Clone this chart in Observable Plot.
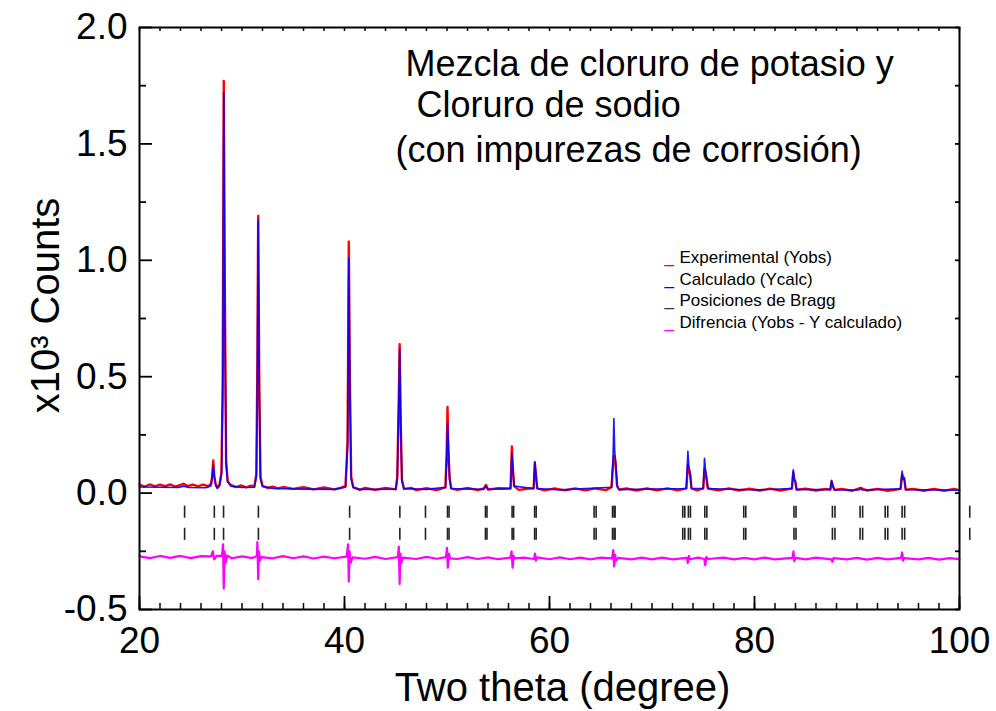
<!DOCTYPE html>
<html>
<head>
<meta charset="utf-8">
<script src="https://cdn.jsdelivr.net/npm/d3@7"></script>
<script src="https://cdn.jsdelivr.net/npm/@observablehq/plot@0.6"></script>
<style>
  html, body { margin: 0; padding: 0; background: #fff; }
</style>
</head>
<body>
<div id="chart"></div>
<script>
// ---------------- DATA ----------------
// [2θ (degree), counts ×10³]
const observed = [
  [20,0.036],[20.5,0.028],[21,0.037],[21.5,0.029],[22,0.036],[22.5,0.03],[23,0.037],[23.5,0.028],[24,0.035],[24.3,0.04],[24.7,0.03],[25.2,0.036],[25.7,0.029],[26.2,0.036],[26.7,0.03],
  [27.0,0.04],[27.1,0.08],[27.2,0.14],[27.3,0.07],[27.45,0.035],[27.6,0.025],[27.8,0.035],[28.0,0.09],[28.12,0.5],[28.22,1.77],[28.32,0.9],[28.45,0.14],[28.6,0.05],[28.9,0.035],
  [29.4,0.026],[29.9,0.033],[30.4,0.025],[30.9,0.032],[31.2,0.027],[31.4,0.08],[31.5,0.55],[31.58,1.19],[31.68,0.5],[31.8,0.07],[32.0,0.03],[32.5,0.022],[33,0.028],[33.5,0.02],[34,0.026],
  [35,0.018],[36,0.025],[37,0.016],[38,0.024],[39,0.016],[39.6,0.022],[40.1,0.03],[40.3,0.22],[40.42,1.08],[40.52,0.5],[40.65,0.07],[40.85,0.025],[41.5,0.014],[42,0.022],[43,0.014],[44,0.022],
  [45,0.016],[45.15,0.07],[45.3,0.42],[45.38,0.64],[45.48,0.32],[45.6,0.06],[45.8,0.018],[46.5,0.022],[47,0.013],[48,0.021],[49,0.013],[49.85,0.025],[49.97,0.18],[50.05,0.37],[50.12,0.19],[50.25,0.07],[50.4,0.02],
  [51,0.014],[52,0.022],[53,0.013],[53.6,0.02],[53.8,0.035],[54.0,0.015],[55,0.021],[56.2,0.02],[56.33,0.2],[56.42,0.11],[56.55,0.03],[57,0.014],[58,0.02],[58.45,0.02],[58.57,0.13],[58.67,0.085],[58.8,0.02],
  [59.5,0.012],[60.5,0.02],[61.5,0.012],[62.5,0.02],[63.5,0.012],[64.5,0.02],[65.5,0.013],[66.05,0.025],[66.2,0.12],[66.28,0.16],[66.36,0.15],[66.45,0.12],[66.6,0.03],[66.8,0.015],
  [67.5,0.02],[68.5,0.011],[69.5,0.02],[70.5,0.012],[71.5,0.02],[72.5,0.012],[73.35,0.02],[73.5,0.12],[73.6,0.1],[73.72,0.08],[73.85,0.02],[74.4,0.012],[75.0,0.02],[75.12,0.10],[75.22,0.09],[75.32,0.06],[75.45,0.02],
  [76.5,0.012],[77.5,0.02],[78.5,0.011],[79.5,0.019],[80.5,0.011],[81.5,0.019],[82.5,0.011],[83.65,0.02],[83.78,0.09],[83.88,0.06],[83.98,0.05],[84.1,0.015],[85,0.019],[86,0.011],[87,0.018],
  [87.4,0.015],[87.52,0.05],[87.65,0.03],[87.8,0.014],[88.5,0.018],[89.5,0.01],[90.35,0.022],[91,0.011],[92,0.018],[93,0.01],[94.25,0.018],[94.4,0.08],[94.5,0.06],[94.6,0.065],[94.75,0.015],
  [95.5,0.018],[96.5,0.01],[97.5,0.018],[98.5,0.01],[99.5,0.018],[100,0.012]
];

const calculated = [
  [20,0.026],[22,0.025],[23.8,0.024],[24.3,0.03],[24.8,0.024],[26.5,0.023],[26.95,0.03],[27.1,0.07],[27.2,0.12],[27.3,0.07],[27.45,0.03],[27.6,0.02],[27.8,0.03],
  [28.0,0.08],[28.12,0.4],[28.22,1.72],[28.32,0.8],[28.45,0.12],[28.6,0.05],[28.9,0.03],[30,0.024],[31.2,0.025],[31.4,0.07],[31.5,0.5],[31.58,1.17],[31.68,0.45],[31.8,0.06],[32.0,0.03],
  [33,0.02],[36,0.017],[39,0.016],[40.1,0.025],[40.3,0.2],[40.42,1.01],[40.52,0.45],[40.65,0.06],[40.85,0.025],[41.5,0.016],[45,0.017],[45.15,0.06],[45.3,0.4],[45.38,0.62],[45.48,0.3],[45.6,0.05],[45.8,0.02],
  [48,0.016],[49.85,0.025],[49.97,0.15],[50.05,0.3],[50.15,0.2],[50.25,0.06],[50.4,0.02],[53.6,0.016],[53.8,0.03],[54.0,0.016],[56.2,0.02],[56.33,0.17],[56.42,0.1],[56.55,0.03],
  [58.45,0.02],[58.57,0.135],[58.67,0.08],[58.8,0.02],[61,0.014],[66.05,0.025],[66.2,0.15],[66.28,0.32],[66.36,0.18],[66.45,0.14],[66.6,0.03],[66.8,0.015],
  [73.35,0.02],[73.5,0.18],[73.6,0.11],[73.72,0.09],[73.85,0.02],[75.0,0.02],[75.12,0.15],[75.22,0.1],[75.32,0.07],[75.45,0.02],[80,0.013],
  [83.65,0.02],[83.78,0.10],[83.88,0.06],[83.98,0.05],[84.1,0.015],[87.4,0.015],[87.52,0.055],[87.65,0.03],[87.8,0.014],[90.2,0.013],[90.35,0.022],[90.5,0.013],
  [94.25,0.018],[94.4,0.095],[94.5,0.06],[94.6,0.065],[94.75,0.015],[100,0.012]
];

const difference = [
  [20,-0.272],[21,-0.279],[22,-0.27],[23,-0.278],[24,-0.27],[25,-0.279],[26,-0.271],[27.0,-0.272],[27.15,-0.25],[27.3,-0.285],[27.5,-0.27],
  [28.05,-0.27],[28.15,-0.22],[28.22,-0.41],[28.3,-0.25],[28.4,-0.3],[28.55,-0.268],[29,-0.28],[30,-0.272],[31,-0.279],
  [31.45,-0.27],[31.5,-0.21],[31.58,-0.37],[31.65,-0.25],[31.75,-0.29],[31.9,-0.275],[33,-0.28],[34,-0.271],[35,-0.28],[36,-0.272],[37,-0.281],[38,-0.273],[39,-0.28],
  [40.2,-0.273],[40.35,-0.22],[40.42,-0.38],[40.5,-0.25],[40.6,-0.3],[40.8,-0.276],[42,-0.282],[43,-0.274],[44,-0.283],
  [45.2,-0.275],[45.3,-0.23],[45.38,-0.39],[45.45,-0.26],[45.55,-0.3],[45.7,-0.277],[47,-0.283],[48,-0.274],[49,-0.282],
  [49.9,-0.275],[50.0,-0.235],[50.08,-0.32],[50.18,-0.26],[50.3,-0.28],[51,-0.283],[52,-0.275],[53,-0.283],[54,-0.276],[55,-0.284],
  [56.2,-0.277],[56.3,-0.25],[56.4,-0.32],[56.5,-0.27],[56.6,-0.28],[57.5,-0.277],[58.5,-0.283],[58.58,-0.26],[58.68,-0.29],[58.8,-0.276],
  [60,-0.284],[61,-0.276],[62,-0.284],[63,-0.277],[64,-0.285],[65,-0.277],[66.1,-0.28],[66.22,-0.245],[66.3,-0.315],[66.4,-0.265],[66.5,-0.29],[66.7,-0.278],
  [68,-0.285],[69,-0.277],[70,-0.285],[71,-0.277],[72,-0.285],[73.4,-0.278],[73.5,-0.3],[73.6,-0.27],[73.7,-0.284],[74.5,-0.277],[75.1,-0.283],[75.2,-0.31],[75.3,-0.275],[75.5,-0.283],
  [77,-0.277],[78,-0.285],[79,-0.278],[80,-0.285],[81,-0.277],[82,-0.285],[83.7,-0.278],[83.8,-0.25],[83.88,-0.292],[84,-0.278],[85,-0.285],[86,-0.277],
  [87.5,-0.285],[87.6,-0.295],[87.7,-0.279],[89,-0.285],[90,-0.278],[91,-0.286],[92,-0.278],[93,-0.285],[94.3,-0.278],[94.4,-0.255],[94.5,-0.29],[94.6,-0.279],
  [96,-0.285],[97,-0.278],[98,-0.286],[99,-0.279],[100,-0.284]
];

// Bragg reflection positions (2θ), two phases / rows
const braggRow1 = [24.4,27.3,28.2,31.6,40.5,45.4,47.9,50.05,50.2,53.75,53.9,56.35,56.5,58.55,58.7,64.35,64.55,66.15,66.3,66.4,
  73.0,73.2,73.55,73.75,75.15,75.35,78.95,79.15,83.85,84.05,87.6,87.85,90.3,90.55,92.75,93.0,94.4,94.65,101.0];
const braggRow2 = [24.4,27.3,28.2,31.6,40.5,45.4,47.9,50.05,50.2,53.75,53.9,56.35,56.5,58.55,58.7,64.35,64.55,66.15,66.3,66.4,
  73.0,73.2,73.55,73.75,75.15,75.35,78.95,79.15,83.85,84.05,87.6,87.85,90.3,90.55,92.75,93.0,94.4,94.65,101.0];
const braggRowLevels = [[-0.056,-0.108],[-0.151,-0.203]];

const xMajorTicks = [20,40,60,80,100];
const xMinorTicks = d3.range(20, 101, 2);
const yMajorTicks = [-0.5,0.0,0.5,1.0,1.5,2.0];
const yMinorTicks = [-0.25,0.25,0.75,1.25,1.75];

const titleLines = ["Mezcla de cloruro de potasio y", "Cloruro de sodio", "(con impurezas de corrosión)"];
const legendLabels = ["Experimental (Yobs)", "Calculado (Ycalc)", "Posiciones de Bragg", "Difrencia (Yobs - Y calculado)"];
const legendColors = ["#ff0000", "#0000ff", "#333333", "#ff00ff"];
const xLabel = "Two theta (degree)";
const yLabel = "x10³ Counts";

// ---------------- LAYOUT ----------------
const W = 996, H = 711, mL = 139, mR = 37, mT = 27, mB = 102;
const fw = W - mL - mR, fh = H - mT - mB;
const font = "Arial, 'Liberation Sans', Helvetica, sans-serif";

const titleOffsets = [[266, 37], [277, 78], [256, 123]];

const marks = [
  // Bragg position ticks
  Plot.ruleX(braggRow1, {x: d => d, y1: braggRowLevels[0][0], y2: braggRowLevels[0][1], stroke: "#222", strokeWidth: 1.6}),
  Plot.ruleX(braggRow2, {x: d => d, y1: braggRowLevels[1][0], y2: braggRowLevels[1][1], stroke: "#222", strokeWidth: 1.6}),
  // difference
  Plot.line(difference, {x: d => d[0], y: d => d[1], stroke: "#ff00ff", strokeWidth: 2.2}),
  // observed & calculated
  Plot.line(observed, {x: d => d[0], y: d => d[1], stroke: "#ff0000", strokeWidth: 2.4}),
  Plot.line(calculated, {x: d => d[0], y: d => d[1], stroke: "#0000ff", strokeWidth: 1.6, strokeOpacity: 0.9}),
  // frame
  Plot.frame({stroke: "black", strokeWidth: 2}),
  // inward ticks: left / right
  Plot.tickY(yMajorTicks, {y: d => d, insetRight: fw - 13, stroke: "black", strokeWidth: 1.8}),
  Plot.tickY(yMinorTicks, {y: d => d, insetRight: fw - 7, stroke: "black", strokeWidth: 1.8}),
  Plot.tickY(yMajorTicks.concat(yMinorTicks), {y: d => d, insetLeft: fw - 4, stroke: "black", strokeWidth: 1.8}),
  // inward ticks: bottom / top
  Plot.tickX(xMajorTicks, {x: d => d, insetTop: fh - 13, stroke: "black", strokeWidth: 1.8}),
  Plot.tickX(xMinorTicks, {x: d => d, insetTop: fh - 6, stroke: "black", strokeWidth: 1.5}),
  Plot.tickX(xMinorTicks, {x: d => d, insetBottom: fh - 4, stroke: "black", strokeWidth: 1.5}),
  // tick labels
  Plot.axisY(yMajorTicks, {tickSize: 0, tickPadding: 12, fontSize: 37, tickFormat: d => d.toFixed(1), label: null}),
  Plot.axisX(xMajorTicks, {tickSize: 0, tickPadding: 17, fontSize: 37, tickFormat: d => String(d), label: null}),
  // axis titles
  Plot.text([xLabel], {text: d => d, frameAnchor: "bottom", textAnchor: "middle", lineAnchor: "middle",
      dx: 13, dy: 79, fontSize: 40, fill: "black"}),
  Plot.text([yLabel], {text: d => d, frameAnchor: "left", textAnchor: "middle", lineAnchor: "middle", rotate: -90,
      dx: -93, dy: -13, fontSize: 40, fill: "black"}),
  // title lines
  ...titleLines.map((t, i) => Plot.text([t], {text: d => d, frameAnchor: "top-left", textAnchor: "start", lineAnchor: "middle",
      dx: titleOffsets[i][0], dy: titleOffsets[i][1], fontSize: 36, fill: "black"})),
  // legend
  ...legendLabels.map((t, i) => Plot.text(["_"], {text: d => d, frameAnchor: "top-left", textAnchor: "start", lineAnchor: "middle",
      dx: 525, dy: 230 + i * 21.7, fontSize: 17, fill: legendColors[i]})),
  ...legendLabels.map((t, i) => Plot.text([t], {text: d => d, frameAnchor: "top-left", textAnchor: "start", lineAnchor: "middle",
      dx: 540, dy: 230 + i * 21.7, fontSize: 17, fill: "black"}))
];

const chart = Plot.plot({
  width: W, height: H,
  marginLeft: mL, marginRight: mR, marginTop: mT, marginBottom: mB,
  style: {fontFamily: font, background: "white", color: "black", overflow: "visible"},
  x: {domain: [20, 100]},
  y: {domain: [-0.5, 2.0]},
  marks
});
document.getElementById("chart").appendChild(chart);
</script>
</body>
</html>
